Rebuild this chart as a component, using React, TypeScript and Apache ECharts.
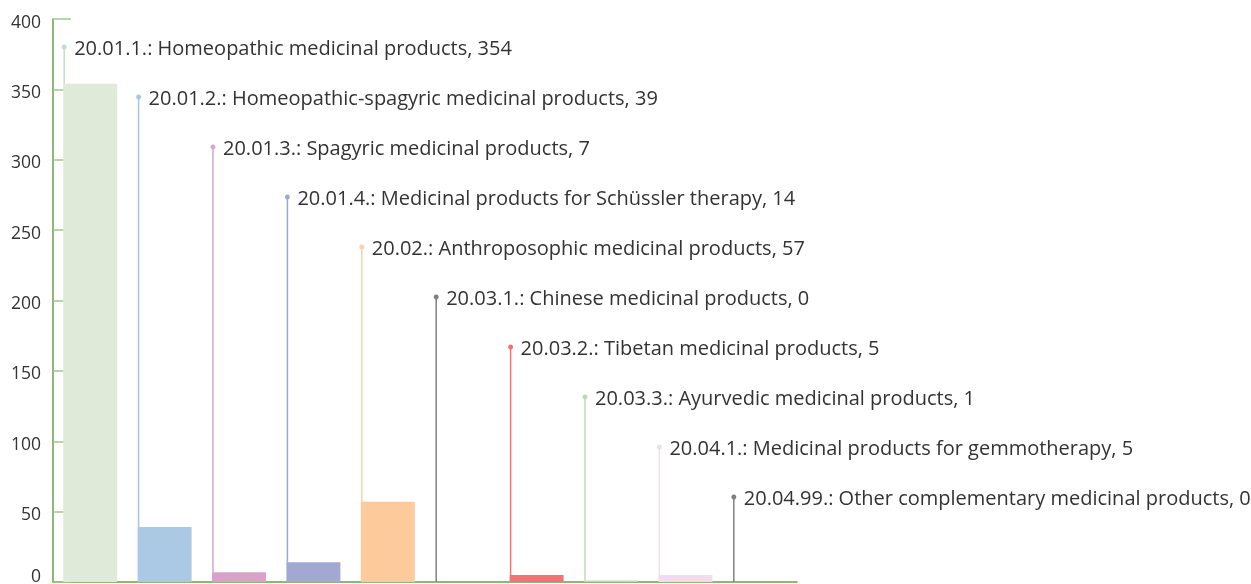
import React, { useEffect, useRef } from "react";
import * as echarts from "echarts";

const categories = [
  "20.01.1.: Homeopathic medicinal products",
  "20.01.2.: Homeopathic-spagyric medicinal products",
  "20.01.3.: Spagyric medicinal products",
  "20.01.4.: Medicinal products for Schüssler therapy",
  "20.02.: Anthroposophic medicinal products",
  "20.03.1.: Chinese medicinal products",
  "20.03.2.: Tibetan medicinal products",
  "20.03.3.: Ayurvedic medicinal products",
  "20.04.1.: Medicinal products for gemmotherapy",
  "20.04.99.: Other complementary medicinal products",
];
const values = [354, 39, 7, 14, 57, 0, 5, 1, 5, 0];
const barColors = [
  "#dfebd8", "#abc8e4", "#d8a3c8", "#a3a8d2", "#fdca9b",
  "#777777", "#f07474", "#b8dcb3", "#f0dcec", "#777777",
];
const lineColors = [
  "#c8dcc4", "#a9c6e3", "#d9a6c9", "#a3a8d2", "#fdcfa6",
  "#808080", "#f07474", "#bcdcb6", "#f0dfeb", "#808080",
];
const yTicks = [0, 50, 100, 150, 200, 250, 300, 350, 400];

const BAR_W = 54;

export default function App() {
  const ref = useRef<HTMLDivElement>(null);
  useEffect(() => {
    if (!ref.current) return;
    const chart = echarts.init(ref.current, undefined, { renderer: "svg" });
    chart.setOption({
      animation: false,
      grid: { left: 53, right: 454, top: 19, bottom: 2, containLabel: false },
      xAxis: {
        type: "category",
        data: categories,
        boundaryGap: true,
        axisLine: { lineStyle: { color: "#6b9d50", width: 1.5 } },
        axisTick: { inside: true, length: 13, lineStyle: { color: "#9cc98a", width: 1.5 } },
        axisLabel: { show: false },
      },
      yAxis: {
        type: "value",
        min: yTicks[0],
        max: yTicks[yTicks.length - 1],
        interval: 50,
        axisLine: { show: true, lineStyle: { color: "#6b9d50", width: 1.5 } },
        axisTick: { show: true, inside: true, length: 18, lineStyle: { color: "#9cc98a", width: 1.5 } },
        splitLine: { show: false },
        axisLabel: {
          color: "#333",
          fontSize: 17.5,
          fontFamily: "Open Sans",
          margin: 12,
          verticalAlign: "middle",
          padding: [3, 0, 0, 0],
          formatter: (v: number) => (v === 0 ? "{z|0}" : String(v)),
          rich: {
            z: {
              color: "#333",
              fontSize: 17.5,
              fontFamily: "Open Sans",
              padding: [0, 0, 18, 0],
            },
          },
        },
      },
      series: [
        {
          type: "custom",
          z: 1,
          clip: false,
          data: values.map((v, i) => [i, v]),
          renderItem: (params: any, api: any) => {
            const idx = api.value(0);
            const v = api.value(1);
            const top = api.coord([idx, v]);
            const cs = params.coordSys;
            const lineX = top[0] - BAR_W / 2 + 1;
            const labelY = cs.y + 28 + idx * 50;
            const color = lineColors[idx];
            return {
              type: "group",
              children: [
                {
                  type: "line",
                  shape: { x1: lineX, y1: labelY, x2: lineX, y2: top[1] },
                  style: { stroke: color, lineWidth: 1.5 },
                },
                {
                  type: "circle",
                  shape: { cx: lineX, cy: labelY, r: 2.5 },
                  style: { fill: color },
                },
                {
                  type: "text",
                  style: {
                    text: categories[idx] + ", " + values[idx],
                    x: lineX + 10,
                    y: labelY,
                    textVerticalAlign: "middle",
                    fill: "#333",
                    font: '20px "Open Sans"',
                  },
                },
              ],
            };
          },
        },
        {
          type: "bar",
          z: 2,
          barWidth: BAR_W,
          data: values.map((v, i) => ({ value: v, itemStyle: { color: barColors[i] } })),
        },
      ],
    });
    return () => chart.dispose();
  }, []);
  return (
    <div
      ref={ref}
      style={{ position: "fixed", left: 0, top: 0, width: 1251, height: 584 }}
    />
  );
}
